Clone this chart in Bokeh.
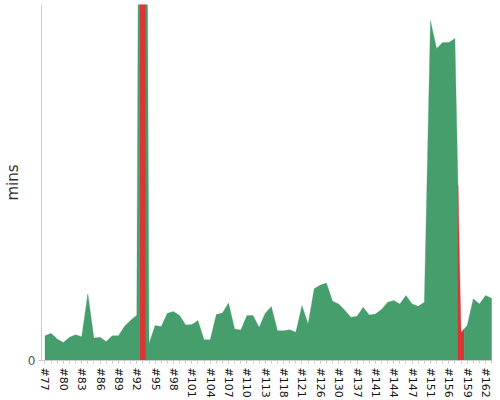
from bokeh.plotting import figure
from bokeh.models import Range1d, FixedTicker
from bokeh.embed import file_html
from bokeh.resources import INLINE

# ---- data ----
builds = list(range(77, 114)) + [114, 116, 118, 119, 120, 121, 123, 124, 126, 127, 129, 130,
                                 132, 135, 137, 139, 140, 141, 142, 143, 144, 145, 146, 147,
                                 148, 150, 151, 153, 155, 156, 157, 158, 159, 160, 161, 162, 163]

durations = [4.19, 4.58, 3.61, 3.05, 3.90, 4.36, 4.02, 11.24, 3.78, 3.90,
             3.22, 4.19, 4.19, 5.76, 6.78, 7.63, 254.0, 2.88, 5.88, 5.71,
             7.97, 8.25, 7.58, 5.98, 6.05, 6.73, 3.51, 3.51, 7.75, 8.02,
             9.71, 5.31, 5.14, 7.58, 7.58, 5.59, 7.97, 9.10, 5.03, 5.03,
             5.20, 4.75, 9.27, 6.15, 12.08, 12.71, 13.05, 10.0, 9.54, 8.47,
             7.29, 7.46, 8.98, 7.68, 7.85, 8.59, 9.83, 10.12, 9.54, 10.97,
             9.54, 9.15, 9.83, 57.29, 52.59, 53.61, 53.61, 54.29, 4.75, 5.88,
             10.39, 9.54, 10.97, 10.51]

failed_builds = [93, 158]

labelled_builds = [77, 80, 83, 86, 89, 92, 95, 98, 101, 104, 107, 110, 113,
                   118, 121, 126, 130, 137, 141, 144, 147, 151, 156, 159, 162]

GREEN = "#469e6c"
RED = "#d93636"

N = len(builds)
status = ["FAILURE" if b in failed_builds else "SUCCESS" for b in builds]

# Build area polygons: each build owns the band [i-0.5, i+0.5]; the top follows
# the line joining consecutive builds' durations.
xs_list, ys_list, colors = [], [], []
i = 0
while i < N:
    j = i
    while j + 1 < N and status[j + 1] == status[i]:
        j += 1
    xs, ys = [], []
    if i > 0:
        xs.append(i - 0.5)
        ys.append((durations[i - 1] + durations[i]) / 2)
    for k in range(i, j + 1):
        xs.append(k)
        ys.append(durations[k])
    if j < N - 1:
        xs.append(j + 0.5)
        ys.append((durations[j] + durations[j + 1]) / 2)
    xs += [xs[-1], xs[0]]
    ys += [0, 0]
    xs_list.append(xs)
    ys_list.append(ys)
    colors.append(RED if status[i] == "FAILURE" else GREEN)
    i = j + 1

p = figure(width=500, height=400, output_backend="svg", toolbar_location=None,
           x_range=Range1d(-0.57, N - 1 + 0.14), y_range=Range1d(0, 60),
           min_border_left=40, min_border_right=8, min_border_top=4, min_border_bottom=0)

p.patches(xs_list, ys_list, fill_color=colors, line_color=colors, line_width=0.3)

p.grid.visible = False
p.outline_line_color = None
p.background_fill_color = "white"

# x axis
tick_idx = [builds.index(b) for b in labelled_builds]
p.xaxis.ticker = FixedTicker(ticks=tick_idx, minor_ticks=list(range(N)))
p.xaxis.major_label_overrides = {builds.index(b): "#%d" % b for b in labelled_builds}
p.xaxis.major_label_orientation = "vertical"
p.xaxis.major_label_text_font = "DejaVu Sans"
p.xaxis.major_label_text_font_size = "11px"
p.xaxis.major_label_text_color = "#111111"
p.xaxis.major_label_standoff = 4
p.xaxis.axis_line_color = "#cccccc"
p.xaxis.major_tick_line_color = "#cccccc"
p.xaxis.minor_tick_line_color = "#cccccc"
p.xaxis.major_tick_in = 0
p.xaxis.major_tick_out = 3
p.xaxis.minor_tick_in = 0
p.xaxis.minor_tick_out = 3

# y axis
p.yaxis.ticker = FixedTicker(ticks=[0], minor_ticks=[])
p.yaxis.axis_label = "mins"
p.yaxis.axis_label_text_font = "DejaVu Sans"
p.yaxis.axis_label_text_font_size = "15px"
p.yaxis.axis_label_text_font_style = "normal"
p.yaxis.axis_label_text_color = "#333333"
p.yaxis.axis_label_standoff = 3
p.yaxis.major_label_text_font = "DejaVu Sans"
p.yaxis.major_label_text_font_size = "12px"
p.yaxis.major_label_text_color = "#555555"
p.yaxis.major_label_standoff = 3
p.yaxis.axis_line_color = "#cccccc"
p.yaxis.major_tick_line_color = "#cccccc"
p.yaxis.major_tick_in = 0
p.yaxis.major_tick_out = 3

open("out.html", "w").write(file_html(p, INLINE))
